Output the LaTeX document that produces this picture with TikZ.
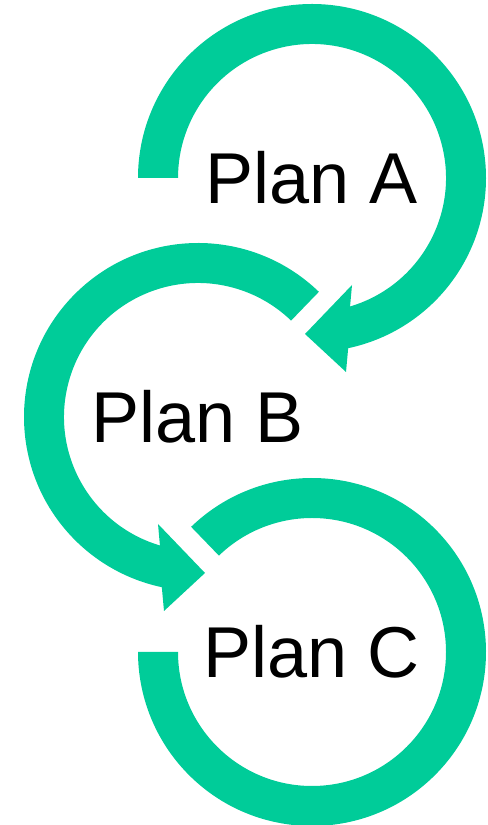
\documentclass[tikz,border=0pt]{standalone}
\usepackage{fontspec}
\setmainfont{Liberation Sans}
\usepackage{tikz}
\usetikzlibrary{calc}
\definecolor{ringc}{HTML}{00CC99}
\definecolor{inkOne}{HTML}{000000}
\tikzset{
  ring/.style={fill=ringc, draw=none},
  plan/.style={font=\fontsize{41}{49}\selectfont, text=inkOne, inner sep=0pt},
}

\begin{document}
\begin{tikzpicture}[x=0.02cm, y=0.02cm]
  \useasboundingbox (0,0) rectangle (487,825);
  % ring centres = label nodes
  \node[plan] (planA) at (312,647) {Plan A};
  \node[plan] (planB) at (198,408) {Plan B};
  \node[plan] (planC) at (312,173) {Plan C};
  % ring A, clockwise, head pointing to ring B
  \fill[ring] ($(planA)+(180:174)$) arc[start angle=180, end angle=-78, radius=174]
    -- ($(planA)+(34,-194)$) -- ($(planA)+(-7,-156)$) -- ($(planA)+(40,-107)$)
    -- ($(planA)+(-73.5:134)$) arc[start angle=-73.5, end angle=180, radius=134] -- cycle;
  % ring B, counter-clockwise, head pointing to ring C
  \fill[ring] ($(planB)+(46:174)$) arc[start angle=46, end angle=258, radius=174]
    -- ($(planB)+(-34,-194)$) -- ($(planB)+(7,-156)$) -- ($(planB)+(-40,-107)$)
    -- ($(planB)+(253.5:134)$) arc[start angle=253.5, end angle=46, radius=134] -- cycle;
  % ring C, no head
  \fill[ring] ($(planC)+(134:174)$) arc[start angle=134, end angle=-180, radius=174]
    -- ($(planC)+(180:134)$) arc[start angle=-180, end angle=134, radius=134] -- cycle;
\end{tikzpicture}
\end{document}
